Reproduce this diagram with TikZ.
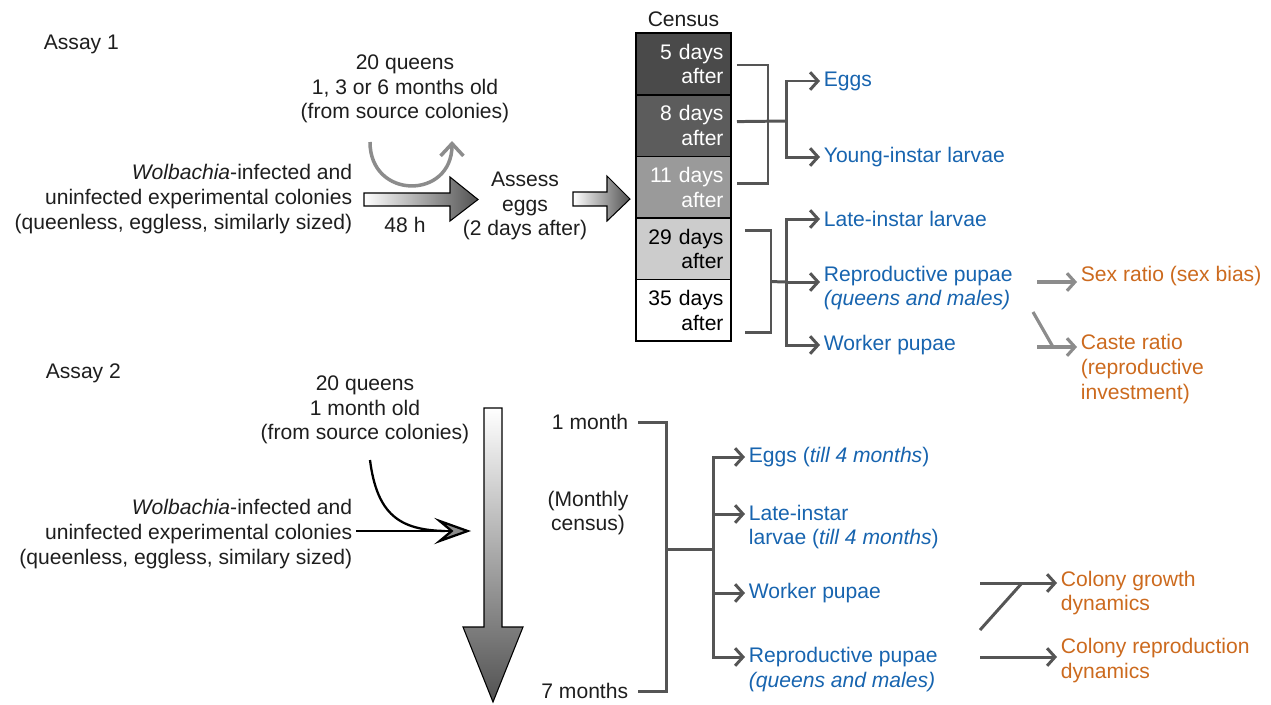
\documentclass[tikz,border=0pt]{standalone}
\usepackage{fontspec}
\setmainfont{Liberation Sans}
\usepackage{xcolor}
\definecolor{Ink}{HTML}{1E1E1E}
\definecolor{Stage}{HTML}{1764AF}
\definecolor{Result}{HTML}{CC6A1E}
\definecolor{Bracket}{HTML}{555555}
\definecolor{Soft}{HTML}{8C8C8C}
\definecolor{DayFive}{HTML}{4A4A4A}
\definecolor{DayEight}{HTML}{5C5C5C}
\definecolor{DayEleven}{HTML}{9A9A9A}
\definecolor{DayTwentyNine}{HTML}{CCCCCC}
\usepackage{tikz}
\usetikzlibrary{arrows.meta,positioning,calc}

\begin{document}
\begin{tikzpicture}[
  x=0.02cm, y=-0.02cm,
  every node/.style={font=\fontsize{12}{14}\selectfont, inner sep=2pt, text=Ink},
  txt/.style={align=center},
  stage/.style={text=Stage, anchor=west, align=left},
  result/.style={text=Result, anchor=west, align=left},
  row/.style={draw, line width=0.9pt, outer sep=0pt, minimum width=1.9cm, minimum height=1.232cm,
    text width=1.6cm, align=right, inner xsep=0.15cm, text=white},
  bracket/.style={draw=Bracket, line width=1.7pt},
  tip/.style={bracket, -{Straight Barb[length=4.5pt,width=10pt]}},
  soft/.style={draw=Soft, line width=1.8pt},
  softtip/.style={soft, -{Straight Barb[length=4.5pt,width=10pt]}},
  block/.style={draw=black, line width=0.6pt}
]
  \useasboundingbox (0,0) rectangle (1271,704);

  % Assay 1
  \node[anchor=west] (assay1) at (40,44) {Assay 1};
  \node[txt] (queens1) at (405,89) {20 queens\\1, 3 or 6 months old\\(from source colonies)};
  \node[anchor=east, align=right] (colonies1) at (356,199)
    {\textit{Wolbachia}-infected and\\uninfected experimental colonies\\(queenless, eggless, similarly sized)};
  \node (hours) at (405,225) {48 h};
  \node[txt] (assess) at (525,206) {Assess\\eggs\\(2 days after)};

  \draw[softtip, line width=2pt, -{Straight Barb[length=7pt,width=13pt]}]
    (370,142) .. controls (370,200) and (452,200) .. (452,141);
  \shadedraw[block, left color=white, right color=black!68]
    (364,193) -- (450,193) -- (450,177) -- (478,199.5) -- (450,221) -- (450,206) -- (364,206) -- cycle;
  \shadedraw[block, left color=white, right color=black!68]
    (573,192) -- (607,192) -- (607,176) -- (630,199) -- (607,221) -- (607,206) -- (573,206) -- cycle;

  % census column
  \node (census) at (683.5,19) {Census};
  \node[row, fill=DayFive] (d5) at (683.5,64) {5 days\\after};
  \node[row, fill=DayEight, below=0pt of d5] (d8) {8 days\\after};
  \node[row, fill=DayEleven, below=0pt of d8] (d11) {11 days\\after};
  \node[row, fill=DayTwentyNine, text=black, below=0pt of d11] (d29) {29 days\\after};
  \node[row, fill=white, text=black, below=0pt of d29] (d35) {35 days\\after};

  \node[stage] (eggs) at (820,81) {Eggs};
  \node[stage] (young) at (820,157) {Young-instar larvae};
  \node[stage] (late) at (820,219) {Late-instar larvae};
  \node[stage] (repro) at (820,288) {Reproductive pupae\\\textit{(queens and males)}};
  \node[stage] (worker) at (820,345) {Worker pupae};

  \coordinate (upjoin) at (786,121);
  \coordinate (lowjoin) at (786,282);
  \draw[bracket] ($(d5.east)+(6,1)$) -- ++(31,0) |- ($(d11.east)+(6,-4)$);
  \draw[bracket] ($(d8.east)+(6,-4)$) -- (upjoin);
  \draw[tip] (upjoin) |- (eggs.west);
  \draw[tip] (upjoin) |- (young.west);
  \draw[bracket] ($(d29.east)+(14,-18)$) -- ++(26,0) |- ($(d35.east)+(14,22)$);
  \draw[bracket] ($(d29.south east)+(40,2)$) -- (lowjoin);
  \draw[tip] (lowjoin) |- (late.west);
  \draw[tip] (lowjoin) |- (worker.west);
  \draw[tip] (lowjoin) -- (lowjoin -| repro.west);

  \node[result] (sexratio) at (1077,276) {Sex ratio (sex bias)};
  \node[result] (caste) at (1077,369) {Caste ratio\\(reproductive\\investment)};
  \coordinate (split) at (1033,312);
  \draw[softtip] ($(sexratio.west)+(-40,6)$) -- ($(sexratio.west)+(0,6)$);
  \draw[softtip] ($(caste.west)+(-40,-22)$) -- ($(caste.west)+(0,-22)$);
  \draw[soft] (split) -- ($(caste.west)+(-24,-22)$);

  % Assay 2
  \node[anchor=west] (assay2) at (42,373) {Assay 2};
  \node[txt] (queens2) at (365,410) {20 queens\\1 month old\\(from source colonies)};
  \node[anchor=east, align=right] (colonies2) at (356,534)
    {\textit{Wolbachia}-infected and\\uninfected experimental colonies\\(queenless, eggless, similary sized)};

  \shadedraw[block, top color=white, bottom color=black!68]
    (484,408) -- (502,408) -- (502,627) -- (523,627) -- (493,702) -- (463,627) -- (484,627) -- cycle;
  \coordinate (timeline) at (471,531);
  \draw[line width=1.3pt, -{Stealth[length=21pt,width=15pt,inset=9pt,fill=black!45]}]
    (colonies2.east |- timeline) -- (timeline);
  \draw[line width=1.3pt] ($(queens2.south)+(5,12)$) .. controls (377,515) and (400,530) .. (445,531);

  \node[anchor=east] (month1) at (632,422) {1 month};
  \node[txt] (monthly) at (588,513) {(Monthly\\census)};
  \node[anchor=east] (month7) at (632,691) {7 months};

  \node[stage] (eggs2) at (745,457) {Eggs (\textit{till 4 months})};
  \node[stage] (late2) at (745,527) {Late-instar\\larvae (\textit{till 4 months})};
  \node[stage] (worker2) at (745,593) {Worker pupae};
  \node[stage] (repro2) at (745,669.5) {Reproductive pupae\\\textit{(queens and males)}};

  \coordinate (mjoin) at (666,549);
  \coordinate (mfork) at (713,549);
  \draw[bracket] ($(month1.east)+(6,0)$) -| (mjoin) |- ($(month7.east)+(6,0)$);
  \draw[bracket] (mjoin) -- (mfork);
  \draw[tip] (mfork) |- (eggs2.west);
  \draw[tip] (mfork) |- ($(late2.west)+(0,-13)$);
  \draw[tip] (mfork) |- (worker2.west);
  \draw[tip] (mfork) |- ($(repro2.west)+(0,-12.5)$);

  \node[result] (growth) at (1057,593) {Colony growth\\dynamics};
  \node[result] (reproduction) at (1057,660.5) {Colony reproduction\\dynamics};
  \coordinate (merge) at (980,630);
  \draw[tip] ($(growth.west)+(-77,-10)$) -- ($(growth.west)+(0,-10)$);
  \draw[bracket] (merge) -- ($(growth.west)+(-35,-10)$);
  \draw[tip] ($(reproduction.west)+(-77,-3.5)$) -- ($(reproduction.west)+(0,-3.5)$);
\end{tikzpicture}
\end{document}
